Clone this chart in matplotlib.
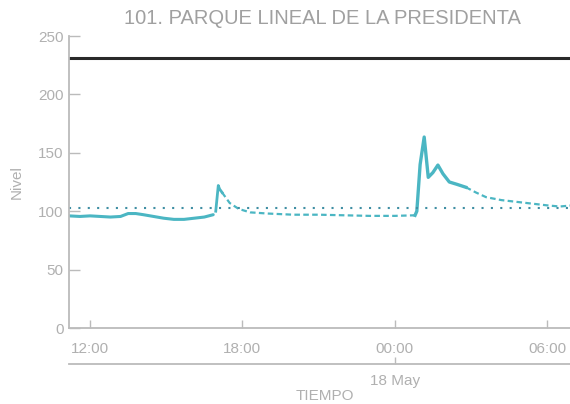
import datetime
import matplotlib
matplotlib.use('Agg')
import matplotlib.pyplot as plt

plt.rcParams['font.family'] = ['Liberation Sans', 'DejaVu Sans']

# hours counted from 00:00 of 17 May
base = datetime.datetime(2019, 5, 17)

# solid morning segment
t_morning = [11.17, 11.6, 12.0, 12.4, 12.8, 13.2, 13.5, 13.8, 14.1, 14.5, 14.9, 15.3, 15.7, 16.1, 16.5, 16.85]
v_morning = [96, 95.5, 96, 95.5, 95, 95.5, 98, 98, 97, 95.5, 94, 93, 93, 94, 95, 97]

# first spike
t_spike1 = [16.95, 17.05, 17.1, 17.2]
v_spike1 = [100, 122, 119, 116]

# sparse readings in the evening / night
t_night = [17.2, 17.5, 17.85, 18.3, 19.0, 20.0, 21.0, 22.0, 23.0, 24.0, 24.8]
v_night = [116, 107, 102, 99, 98, 97, 97, 96.5, 96, 96, 96.5]

# second spike
t_spike2 = [24.8, 24.87, 25.0, 25.16, 25.32, 25.5, 25.7, 25.9, 26.15, 26.45, 26.8]
v_spike2 = [96.5, 100, 140, 163.5, 129, 133, 139.5, 132, 125, 123, 120.5]

# sparse tail
t_tail = [26.8, 27.2, 27.6, 28.2, 28.8, 29.4, 30.0, 30.5, 31.0]
v_tail = [120.5, 116, 112, 109.5, 108, 106.5, 105, 104, 105]

upper_level = 231
ref_level = 103

y_ticks = [0, 50, 100, 150, 200, 250]
x_ticks = [12, 18, 24, 30]
x_labels = ['12:00', '18:00', '00:00', '06:00']


def to_dt(hours):
    return [base + datetime.timedelta(hours=h) for h in hours]


grey = '#b0b0b0'
spine = '#bbbbbb'
teal = '#4bb6c3'

fig = plt.figure(figsize=(5.7, 4.04), dpi=100)
ax = fig.add_axes([69 / 570, 1 - 328 / 404, 506 / 570, 292 / 404])

ax.plot(to_dt(t_morning), v_morning, color=teal, lw=2.2, solid_capstyle='round')
ax.plot(to_dt(t_spike1), v_spike1, color=teal, lw=2.0)
ax.plot(to_dt(t_night), v_night, color=teal, lw=1.6, ls=(0, (2.5, 1.5)))
ax.plot(to_dt(t_spike2), v_spike2, color=teal, lw=2.4)
ax.plot(to_dt(t_tail), v_tail, color=teal, lw=1.6, ls=(0, (2.5, 1.5)))

ax.axhline(upper_level, color='#2a2a2a', lw=2.2)
ax.axhline(ref_level, color='#3f8ea3', lw=1.5, ls=(0, (1, 3.5)))

ax.set_xlim(to_dt([11.17])[0], to_dt([31.1])[0])
ax.set_ylim(0, 250)

for s in ['top', 'right']:
    ax.spines[s].set_visible(False)
for s in ['left', 'bottom']:
    ax.spines[s].set_color(spine)
    ax.spines[s].set_linewidth(1.3)

ax.set_yticks(y_ticks)
ax.set_xticks(to_dt(x_ticks))
ax.set_xticklabels(x_labels)
ax.tick_params(axis='y', direction='in', length=8, width=1, color=spine,
               labelcolor=grey, labelsize=11, pad=4)
ax.tick_params(axis='x', direction='in', length=6, width=1, color=spine,
               labelcolor=grey, labelsize=11, pad=10)

sec = ax.secondary_xaxis(-36 / 292)
sec.set_xticks(to_dt([24]))
sec.set_xticklabels(['18 May'])
sec.spines['bottom'].set_color(spine)
sec.spines['bottom'].set_linewidth(1.3)
sec.tick_params(axis='x', direction='in', length=5, width=1, color=spine,
                labelcolor=grey, labelsize=11, pad=7)

ax.set_ylabel('Nivel', color=grey, fontsize=11, labelpad=10)
fig.text(325 / 570, 1 - 396 / 404, 'TIEMPO', color=grey, fontsize=11,
         ha='center', va='center')
fig.text(322 / 570, 1 - 19 / 404, '101. PARQUE LINEAL DE LA PRESIDENTA',
         color='#a0a0a0', fontsize=14.5, ha='center', va='center')

fig.savefig('out.png', dpi=100)
